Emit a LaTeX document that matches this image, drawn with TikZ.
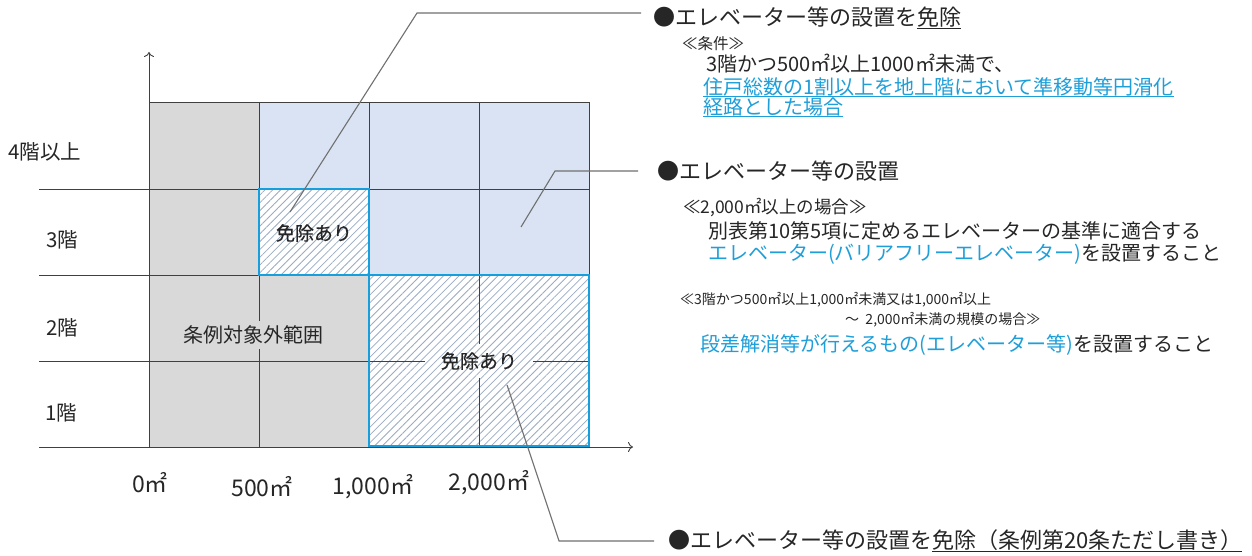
\documentclass[tikz,border=0pt]{standalone}
\usepackage{fontspec}
\setmainfont{Noto Sans CJK JP}
\newfontfamily\jpsemi[FakeBold=0.5]{Noto Sans CJK JP}
\usetikzlibrary{patterns.meta,arrows.meta}
\definecolor{grayfill}{HTML}{D9D9D9}
\definecolor{lightblue}{HTML}{DAE3F3}
\definecolor{bluec}{HTML}{169FDD}
\definecolor{bluetext}{HTML}{1F9FD9}
\definecolor{hatchc}{HTML}{9AABC2}
\definecolor{gridc}{HTML}{404040}
\definecolor{leadc}{HTML}{707070}
\definecolor{txt}{HTML}{262626}
\newcommand{\myul}[2][-2.5pt]{\setbox0\hbox{#2}\rlap{\rule[#1]{\wd0}{1.1pt}}\box0}
\newcommand{\fs}[1]{\fontsize{#1}{#1}\selectfont}
\begin{document}
\begin{tikzpicture}[x=1pt,y=-1pt,
  gridline/.style={draw=gridc,line width=0.9pt},
  hatch/.style={pattern={Lines[angle=45,distance=5.5pt,line width=0.8pt]},pattern color=hatchc},
  blueframe/.style={draw=bluec,line width=2.8pt},
  leader/.style={draw=leadc,line width=1.1pt},
  axislab/.style={inner sep=0pt,text=txt,font=\fs{20.5}},
  xlab/.style={inner sep=0pt,text=txt,font=\fs{23}},
  celllab/.style={inner sep=0pt,text=txt,font=\jpsemi\fs{19}},
  rt/.style={anchor=west,inner sep=0pt,text=txt},
  title/.style={rt,font=\fs{22}},
  body/.style={rt,font=\fs{20}},
  small/.style={rt,font=\fs{15.5}},
  axisarrow/.style={gridline,-{To[length=5pt,width=10pt]}}
]
\useasboundingbox (0,0) rectangle (1252,556);
\fill[white] (0,0) rectangle (1252,556);

% cell fills
\fill[grayfill] (149,102) rectangle (259,447);
\fill[grayfill] (259,275) rectangle (369,447);
\fill[lightblue] (259,102) rectangle (589,189);
\fill[lightblue] (369,189) rectangle (589,275);
\fill[white] (259,189) rectangle (369,275);
\path[hatch] (259,189) rectangle (369,275);
\fill[white] (369,275) rectangle (589,447);
\path[hatch] (369,275) rectangle (589,447);

% grid
\draw[gridline] (39,189) -- (589,189);
\draw[gridline] (39,275) -- (589,275);
\draw[gridline] (39,361) -- (589,361);
\draw[gridline] (149,102) -- (589,102) -- (589,447);
\draw[gridline] (259,102) -- (259,447);
\draw[gridline] (369,102) -- (369,447);
\draw[gridline] (479,102) -- (479,447);

% axes
\coordinate (xa0) at (39,447);
\coordinate (xa1) at (633,447);
\coordinate (ya0) at (149,447);
\coordinate (ya1) at (149,52);
\draw[axisarrow] (xa0) -- (xa1);
\draw[axisarrow] (ya0) -- (ya1);

% blue frames
\draw[blueframe] (259,189) rectangle (369,275);
\draw[blueframe] (369,275) rectangle (589,446);

% cell labels
\node[celllab,font=\fs{20},fill=grayfill,inner xsep=2pt,inner ysep=5pt] (outside) at (253,335) {条例対象外範囲};
\node[celllab] (ex1) at (314,233) {免除あり};
\node[celllab,preaction={fill=white},hatch,inner xsep=16pt,inner ysep=8pt] (ex2) at (479,361) {免除あり};

% axis labels
\node[axislab] (f4) at (45,152) {4階以上};
\node[axislab] (f3) at (62,240) {3階};
\node[axislab] (f2) at (62,328) {2階};
\node[axislab] (f1) at (61,413) {1階};
\node[xlab] (a0) at (150,483) {0㎡};
\node[xlab] (a500) at (262,487) {500㎡};
\node[xlab] (a1000) at (373,487) {1,000㎡};
\node[xlab] (a2000) at (489,483) {2,000㎡};

% right texts
\node[title,outer xsep=12pt] (t1) at (641,18) {●エレベーター等の設置を\myul[-3pt]{免除}};
\node[small] (c1) at (682,44) {≪条件≫};
\node[body] (c2) at (706,64) {3階かつ500㎡以上1000㎡未満で、};
\node[body,text=bluetext] (c3) at (703,87) {\myul{住戸総数の1割以上を地上階において準移動等円滑化}};
\node[body,text=bluetext] (c4) at (703,107) {\myul{経路とした場合}};

\node[title,outer xsep=19pt] (t2) at (638,171) {●エレベーター等の設置};
\node[small,font=\fs{17.5}] (d1) at (683,208) {≪2,000㎡以上の場合≫};
\node[body] (d2) at (708,231) {別表第10第5項に定めるエレベーターの基準に適合する};
\node[body] (d3) at (708,254) {\textcolor{bluetext}{エレベーター(バリアフリーエレベーター)}を設置すること};
\node[small,font=\fs{14}] (d4) at (680,300) {≪3階かつ500㎡以上1,000㎡未満又は1,000㎡以上};
\node[small,font=\fs{14}] (d5) at (845,320) {～\ \ 2,000㎡未満の規模の場合≫};
\node[body] (d6) at (700,345) {\textcolor{bluetext}{段差解消等が行えるもの(エレベーター等)}を設置すること};

\node[title,outer xsep=14pt] (t3) at (654,541) {●エレベーター等の設置を\myul[-3pt]{免除（条例第20条ただし書き）}};

% leaders
\coordinate (l1a) at (290,212);
\coordinate (l1b) at (417,13);
\draw[leader] (l1a) -- (l1b) -- (l1b -| t1.west);
\coordinate (l2a) at (521,227);
\coordinate (l2b) at (555,171);
\draw[leader] (l2a) -- (l2b) -- (l2b -| t2.west);
\coordinate (l3a) at (507,385);
\coordinate (l3b) at (559,541);
\draw[leader] (l3a) -- (l3b) -- (l3b -| t3.west);
\end{tikzpicture}
\end{document}
